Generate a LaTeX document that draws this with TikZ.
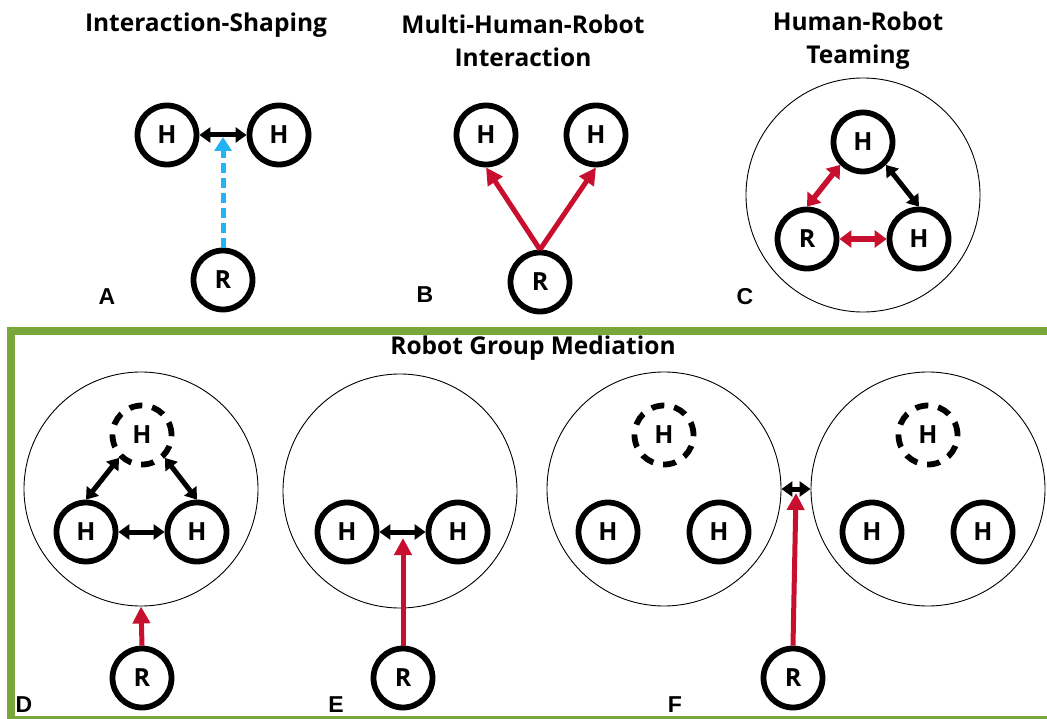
\documentclass[tikz,border=0pt]{standalone}
\usepackage{fontspec}
\setmainfont{Open Sans}
\newfontfamily\letterfont{Liberation Sans}
\usetikzlibrary{arrows.meta}
\definecolor{myred}{RGB}{200,16,46}
\definecolor{myblue}{RGB}{33,180,245}
\definecolor{mygreen}{RGB}{122,167,58}
\newcommand{\agentfont}{\fontsize{25}{28}\selectfont\bfseries}
\tikzset{
  agent/.style={circle, draw=black, line width=5.8pt, minimum size=59pt, inner sep=0pt, font=\agentfont},
  ghost/.style={agent, dash pattern=on 13pt off 10pt},
  group/.style={circle, draw=black, line width=0.9pt, minimum size=234pt, inner sep=0pt},
  title/.style={font=\bfseries\fontsize{24.5}{33}\selectfont, align=center},
  plabel/.style={font=\letterfont\bfseries\fontsize{23}{26}\selectfont},
  bidir/.style={draw=black, line width=5pt, {Triangle[length=11pt,width=15pt]}-{Triangle[length=11pt,width=15pt]}},
  redbidir/.style={draw=myred, line width=5.5pt, {Triangle[length=12pt,width=17pt]}-{Triangle[length=12pt,width=17pt]}},
  redarrow/.style={draw=myred, line width=5pt, -{Triangle[length=17pt,width=17pt]}},
  bluearrow/.style={draw=myblue, line width=5pt, dash pattern=on 10pt off 5pt, -{Triangle[length=14pt,width=17pt]}},
}
\begin{document}
\begin{tikzpicture}[x=1pt, y=-1pt]
\useasboundingbox (0,0) rectangle (1047,719);
\clip (0,0) rectangle (1047,719);

% ---------- Panel A ----------
\node[title] (tA) at (206,25) {Interaction-Shaping};
\node[agent] (hA1) at (167,135) {H};
\node[agent] (hA2) at (279,135) {H};
\node[agent] (rA) at (223,280) {R};
\coordinate (aTip) at (223,137);
\draw[bidir] (hA1) -- (hA2);
\draw[bluearrow] (rA.north) -- (aTip);
\node[plabel] (lA) at (107,297) {A};

% ---------- Panel B ----------
\node[title] (tB) at (523,41) {Multi-Human-Robot\\Interaction};
\node[agent] (hB1) at (486,135) {H};
\node[agent] (hB2) at (596,135) {H};
\node[agent] (rB) at (540,282) {R};
\draw[redarrow] (rB.north) -- (hB1.south);
\draw[redarrow] (rB.north) -- (hB2.south);
\node[plabel] (lB) at (425,295) {B};

% ---------- Panel C ----------
\node[title] (tC) at (858,41) {Human-Robot\\Teaming};
\node[group] (gC) at (863,195) {};
\node[agent] (hC1) at (863,142) {H};
\node[agent] (rC) at (807,239) {R};
\node[agent] (hC2) at (919,239) {H};
\draw[redbidir] (rC.north) -- (hC1.south west);
\draw[bidir] (hC1.south east) -- (hC2.north);
\draw[redbidir] (rC) -- (hC2);
\node[plabel] (lC) at (745,297) {C};

% ---------- Frame ----------
\draw[mygreen, line width=8pt] (1060,331) -- (11,331) -- (11,719.5) -- (1060,719.5);
\node[title] (tD) at (533,348) {Robot Group Mediation};

% ---------- Panel D ----------
\node[group] (gD) at (141,489) {};
\node[ghost] (xD) at (142,435) {H};
\node[agent] (hD1) at (86,532) {H};
\node[agent] (hD2) at (197,532) {H};
\node[agent] (rD) at (142,678) {R};
\draw[bidir] (xD.south west) -- (hD1.north);
\draw[bidir] (xD.south east) -- (hD2.north);
\draw[bidir] (hD1) -- (hD2);
\draw[redarrow] (rD.north) -- (gD.south);
\node[plabel] (lD) at (24,705) {D};

% ---------- Panel E ----------
\node[group] (gE) at (400,491) {};
\node[agent] (hE1) at (347,532) {H};
\node[agent] (hE2) at (458,532) {H};
\node[agent] (rE) at (403,678) {R};
\coordinate (eTip) at (403,538);
\draw[bidir] (hE1) -- (hE2);
\draw[redarrow] (rE.north) -- (eTip);
\node[plabel] (lE) at (336,705) {E};

% ---------- Panel F ----------
\node[group] (gF1) at (664,489) {};
\node[group] (gF2) at (928,489) {};
\node[ghost] (xF1) at (664,435) {H};
\node[ghost] (xF2) at (928,435) {H};
\node[agent] (hF1) at (608,532) {H};
\node[agent] (hF2) at (719,532) {H};
\node[agent] (hF3) at (872,532) {H};
\node[agent] (hF4) at (983,532) {H};
\node[agent] (rF) at (793,678) {R};
\coordinate (fTip) at (796,493);
\draw[bidir] (gF1) -- (gF2);
\draw[redarrow] (rF.north) -- (fTip);
\node[plabel] (lF) at (675,705) {F};
\end{tikzpicture}
\end{document}
